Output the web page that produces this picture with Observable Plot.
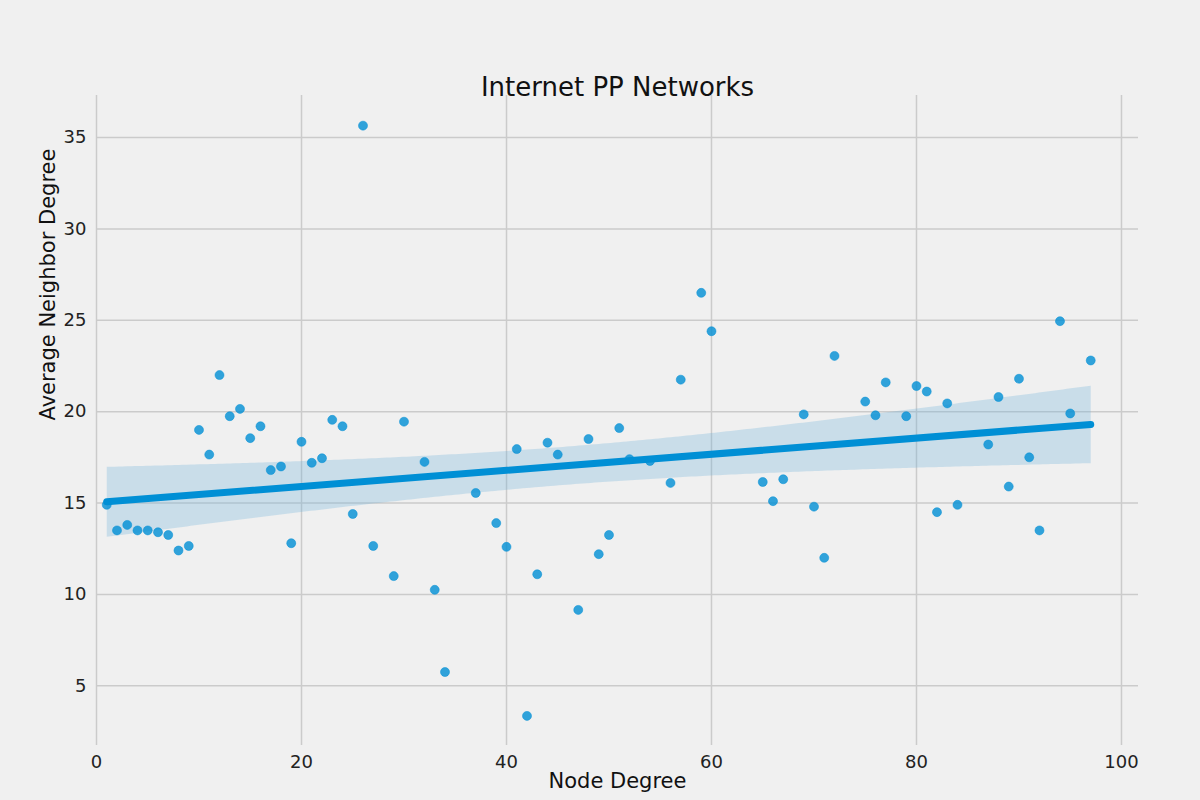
<!DOCTYPE html>
<html>
<head>
<meta charset="utf-8">
<script src="https://cdn.jsdelivr.net/npm/d3@7"></script>
<script src="https://cdn.jsdelivr.net/npm/@observablehq/plot@0.6"></script>
<style>
  body { margin: 0; background: #f0f0f0; font-family: "DejaVu Sans", sans-serif; }
</style>
</head>
<body>
<div id="chart"></div>
<script>
const degree = [1,2,3,4,5,6,7,8,9,10,11,12,13,14,15,16,17,18,19,20,21,22,23,24,25,26,27,29,30,32,33,34,37,39,40,41,42,43,44,45,47,48,49,50,51,52,54,56,57,59,60,65,66,67,69,70,71,72,75,76,77,79,80,81,82,83,84,87,88,89,90,91,92,94,95,97]
const avgNeighbor = [14.9,13.5,13.8,13.5,13.5,13.4,13.25,12.4,12.65,19.0,17.65,22.0,19.75,20.15,18.55,19.2,16.8,17.0,12.8,18.35,17.2,17.45,19.55,19.2,14.4,35.65,12.65,11.0,19.45,17.25,10.25,5.75,15.55,13.9,12.6,17.95,3.35,11.1,18.3,17.65,9.15,18.5,12.2,13.25,19.1,17.4,17.3,16.1,21.75,26.5,24.4,16.15,15.1,16.3,19.85,14.8,12.0,23.05,20.55,19.8,21.6,19.75,21.4,21.1,14.5,20.45,14.9,18.2,20.8,15.9,21.8,17.5,13.5,24.95,19.9,22.8]

let data = degree.map((d, i) => ({ x: d, y: avgNeighbor[i] }))

let chart = Plot.plot({
    width: 1200,
    height: 800,
    marginTop: 95,
    marginBottom: 55,
    marginLeft: 96,
    marginRight: 62,
    style: { background: "#f0f0f0", fontSize: "18px", fontFamily: "DejaVu Sans, sans-serif", color: "#222" },
    x: { domain: [0, 101.66], ticks: [0, 20, 40, 60, 80, 100], label: "Node Degree", labelAnchor: "center", labelOffset: 45, tickSize: 0, tickPadding: 12 },
    y: { domain: [1.73, 37.3], ticks: [5, 10, 15, 20, 25, 30, 35], label: "Average Neighbor Degree", labelAnchor: "center", labelOffset: 70, labelArrow: "none", tickSize: 0, tickPadding: 10 },
    marks: [
        Plot.gridX([0, 20, 40, 60, 80, 100], { stroke: "#cbcbcb", strokeOpacity: 1, strokeWidth: 1.5 }),
        Plot.gridY([5, 10, 15, 20, 25, 30, 35], { stroke: "#cbcbcb", strokeOpacity: 1, strokeWidth: 1.5 }),
        Plot.axisX({ ticks: [0, 20, 40, 60, 80, 100], tickSize: 0, tickPadding: 10, fontSize: 18, label: null }),
        Plot.axisY({ ticks: [5, 10, 15, 20, 25, 30, 35], tickSize: 0, tickPadding: 10, fontSize: 18, label: null }),
        Plot.linearRegressionY(data, { x: "x", y: "y", ci: 0.95, stroke: "#008fd5", strokeWidth: 7, fill: "#6fb4dc", fillOpacity: 0.3 }),
        Plot.dot(data, { x: "x", y: "y", r: 4.5, fill: "#008fd5", fillOpacity: 0.8, stroke: "#008fd5", strokeWidth: 0.5 }),
        Plot.text(["Node Degree"], { frameAnchor: "bottom", dy: 42, fontSize: 21, fill: "#111" }),
        Plot.text(["Average Neighbor Degree"], { frameAnchor: "left", dx: -48, rotate: -90, fontSize: 21, fill: "#111" }),
        Plot.text(["Internet PP Networks"], { frameAnchor: "top", dy: -18, fontSize: 26, fill: "#111" })
    ]
})

// hide the default axis labels (we draw them ourselves)
d3.select(chart).selectAll("[aria-label='x-axis label'], [aria-label='y-axis label']").remove()

d3.select('#chart').append(() => chart)
</script>
</body>
</html>
